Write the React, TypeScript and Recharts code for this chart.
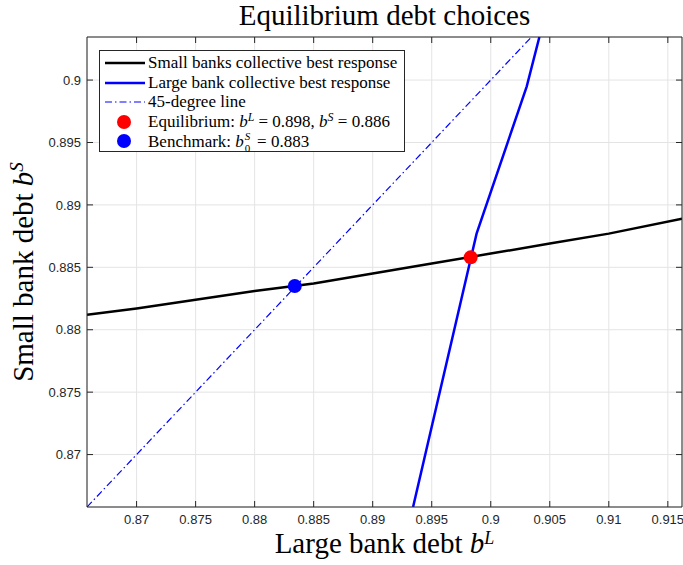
import React from "react";
import {
  ComposedChart, Line, Scatter, XAxis, YAxis, CartesianGrid, Legend, Label,
} from "recharts";

// axis ranges and ticks
const X_DOMAIN = [0.8658, 0.9162];
const Y_DOMAIN = [0.8658, 0.90345];
const xTicks = [0.87, 0.875, 0.88, 0.885, 0.89, 0.895, 0.9, 0.905, 0.91, 0.915];
const yTicks = [0.87, 0.875, 0.88, 0.885, 0.89, 0.895, 0.9];

// small banks collective best response: b^S as a function of b^L
const smallBL = [0.8658, 0.87, 0.875, 0.88, 0.885, 0.89, 0.895, 0.9, 0.905, 0.91, 0.9162];
const smallBS = [0.8812, 0.8817, 0.8824, 0.8831, 0.8837, 0.8845, 0.8853, 0.8861, 0.8869, 0.8877, 0.8889];

// large bank collective best response
const largeBL = [0.89342, 0.8988, 0.90305, 0.90412];
const largeBS = [0.8658, 0.8877, 0.8995, 0.90345];

// 45-degree line
const diagBL = [0.8658, 0.90345];

const equilibrium = [{ x: 0.8983, y: 0.8858 }];
const benchmark = [{ x: 0.8834, y: 0.8835 }];

const smallData = smallBL.map((x, i) => ({ x, y: smallBS[i] }));
const largeData = largeBL.map((x, i) => ({ x, y: largeBS[i] }));
const diagData = diagBL.map((x) => ({ x, y: x }));

const SERIF = "'Liberation Serif', 'Times New Roman', serif";
const SANS = "'Liberation Sans', Arial, sans-serif";
const AXIS = "#262626";
const TITLE_SIZE = 29;
const TICK_LEN = 6;
const X_GAP = 8; // axis line to top of x tick labels
const Y_GAP = 6; // axis line to end of y tick labels

// MATLAB style: tick marks point into the plot box
function BottomTick({ x, y, payload }: any) {
  const axisY = y - X_GAP;
  return (
    <g>
      <line x1={x} x2={x} y1={axisY} y2={axisY - TICK_LEN} stroke={AXIS} />
      <text x={x} y={y} dy="0.71em" textAnchor="middle" fill={AXIS} fontSize={13} fontFamily={SANS}>
        {payload.value}
      </text>
    </g>
  );
}

function LeftTick({ x, y, payload }: any) {
  const axisX = x + Y_GAP;
  return (
    <g>
      <line x1={axisX} x2={axisX + TICK_LEN} y1={y} y2={y} stroke={AXIS} />
      <text x={x} y={y} dy="0.355em" textAnchor="end" fill={AXIS} fontSize={13} fontFamily={SANS}>
        {payload.value}
      </text>
    </g>
  );
}

function TopTick({ x, y }: any) {
  return <line x1={x} x2={x} y1={y} y2={y + TICK_LEN} stroke={AXIS} />;
}

function RightTick({ x, y }: any) {
  return <line x1={x} x2={x - TICK_LEN} y1={y} y2={y} stroke={AXIS} />;
}

function Dot({ cx, cy, fill }: { cx?: number; cy?: number; fill?: string }) {
  return <circle cx={cx} cy={cy} r={7} fill={fill} />;
}

function XTitle(props: any) {
  const vb = props.viewBox ?? { x: 87, y: 507, width: 595 };
  return (
    <text x={vb.x + vb.width / 2} y={553} textAnchor="middle" fontFamily={SERIF} fontSize={TITLE_SIZE} fill="#000">
      Large bank debt <tspan fontStyle="italic">b</tspan>
      <tspan fontStyle="italic" fontSize={18} dy={-9}>L</tspan>
    </text>
  );
}

function YTitle(props: any) {
  const vb = props.viewBox ?? { x: 86, y: 37, height: 470 };
  const cx = 33;
  const cy = vb.y + vb.height / 2;
  return (
    <text x={cx} y={cy} transform={`rotate(-90, ${cx}, ${cy})`} textAnchor="middle" fontFamily={SERIF} fontSize={TITLE_SIZE} fill="#000">
      Small bank debt <tspan fontStyle="italic">b</tspan>
      <tspan fontStyle="italic" fontSize={19} dy={-10}>S</tspan>
    </text>
  );
}

function Title(props: any) {
  const vb = props.viewBox ?? { x: 87, y: 36, width: 595 };
  return (
    <text x={vb.x + vb.width / 2} y={25} textAnchor="middle" fontFamily={SERIF} fontSize={TITLE_SIZE} fill="#000">
      Equilibrium debt choices
    </text>
  );
}

const sup = { fontSize: "0.7em", fontStyle: "italic", verticalAlign: "0.5em", lineHeight: 0 } as const;

function Sample({ kind }: { kind: string }) {
  return (
    <svg width={40} height={19.5} style={{ display: "block", marginRight: 3 }}>
      {kind === "small" && <line x1={0} x2={40} y1={10} y2={10} stroke="#000" strokeWidth={2.5} />}
      {kind === "large" && <line x1={0} x2={40} y1={10} y2={10} stroke="#0000ff" strokeWidth={2.5} />}
      {kind === "diag" && (
        <line x1={0} x2={40} y1={10} y2={10} stroke="#0000ff" strokeWidth={1.2} strokeDasharray="7 3 1.5 3" />
      )}
      {kind === "eq" && <circle cx={19} cy={10} r={7} fill="#ff0000" />}
      {kind === "bench" && <circle cx={19} cy={10} r={7} fill="#0000ff" />}
    </svg>
  );
}

function LegendBox() {
  const row = { display: "flex", alignItems: "center", height: 19.5, whiteSpace: "nowrap" } as const;
  const script = { position: "absolute", left: 1, fontSize: 11, lineHeight: 1 } as const;
  return (
    <div
      style={{
        boxSizing: "border-box", width: 306, height: 102, border: `1px solid ${AXIS}`, background: "#fff",
        padding: "2px 0 0 5px", fontFamily: SERIF, fontSize: 17, lineHeight: "19.5px", color: "#000",
      }}
    >
      <div style={row}><Sample kind="small" />Small banks collective best response</div>
      <div style={row}><Sample kind="large" />Large bank collective best response</div>
      <div style={row}><Sample kind="diag" />45-degree line</div>
      <div style={row}>
        <Sample kind="eq" />
        <span>
          Equilibrium: <i>b</i><span style={sup}>L</span> = 0.898, <i>b</i><span style={sup}>S</span> = 0.886
        </span>
      </div>
      <div style={row}>
        <Sample kind="bench" />
        <span>
          Benchmark: <i>b</i>
          <span style={{ position: "relative", display: "inline-block", width: 9, height: 17, verticalAlign: "baseline" }}>
            <span style={{ ...script, top: 1, fontStyle: "italic" }}>S</span>
            <span style={{ ...script, top: 13 }}>0</span>
          </span>{" "}
          = 0.883
        </span>
      </div>
    </div>
  );
}

export default function App() {
  return (
    <div style={{ position: "absolute", left: 0, top: 0, width: 683, height: 565, background: "#fff" }}>
      <ComposedChart width={683} height={565} margin={{ top: 36, right: 0, bottom: 57, left: 86 }}>
        <CartesianGrid stroke="#e4e4e4" strokeWidth={1} />
        <XAxis
          type="number" dataKey="x" domain={X_DOMAIN} ticks={xTicks} interval={0} allowDataOverflow
          height={1} tickLine={false} tickSize={0} tickMargin={X_GAP} stroke={AXIS} tick={<BottomTick />}
          label={<Label content={XTitle} />}
        />
        <XAxis
          xAxisId="top" orientation="top" type="number" dataKey="x" domain={X_DOMAIN} ticks={xTicks}
          interval={0} allowDataOverflow height={1} tickLine={false} tickSize={0} tickMargin={0}
          stroke={AXIS} tick={<TopTick />}
          label={<Label content={Title} />}
        />
        <YAxis
          type="number" dataKey="y" domain={Y_DOMAIN} ticks={yTicks} interval={0} allowDataOverflow
          width={1} tickLine={false} tickSize={0} tickMargin={Y_GAP} stroke={AXIS} tick={<LeftTick />}
          label={<Label content={YTitle} />}
        />
        <YAxis
          yAxisId="right" orientation="right" type="number" dataKey="y" domain={Y_DOMAIN} ticks={yTicks}
          interval={0} allowDataOverflow width={1} tickLine={false} tickSize={0} tickMargin={0}
          stroke={AXIS} tick={<RightTick />}
        />
        <Line data={smallData} dataKey="y" type="linear" stroke="#000" strokeWidth={2.5} dot={false} activeDot={false} isAnimationActive={false} />
        <Line data={largeData} dataKey="y" type="linear" stroke="#0000ff" strokeWidth={2.5} dot={false} activeDot={false} isAnimationActive={false} />
        <Line data={diagData} dataKey="y" type="linear" stroke="#0000ff" strokeWidth={1.2} strokeDasharray="7 3 1.5 3" dot={false} activeDot={false} isAnimationActive={false} />
        <Scatter data={equilibrium} dataKey="y" fill="#ff0000" shape={<Dot />} isAnimationActive={false} />
        <Scatter data={benchmark} dataKey="y" fill="#0000ff" shape={<Dot />} isAnimationActive={false} />
        <Legend
          layout="vertical" align="center" verticalAlign="middle" content={<LegendBox />}
          wrapperStyle={{ left: 99, top: 50, width: 306, height: 102 }}
        />
      </ComposedChart>
    </div>
  );
}
